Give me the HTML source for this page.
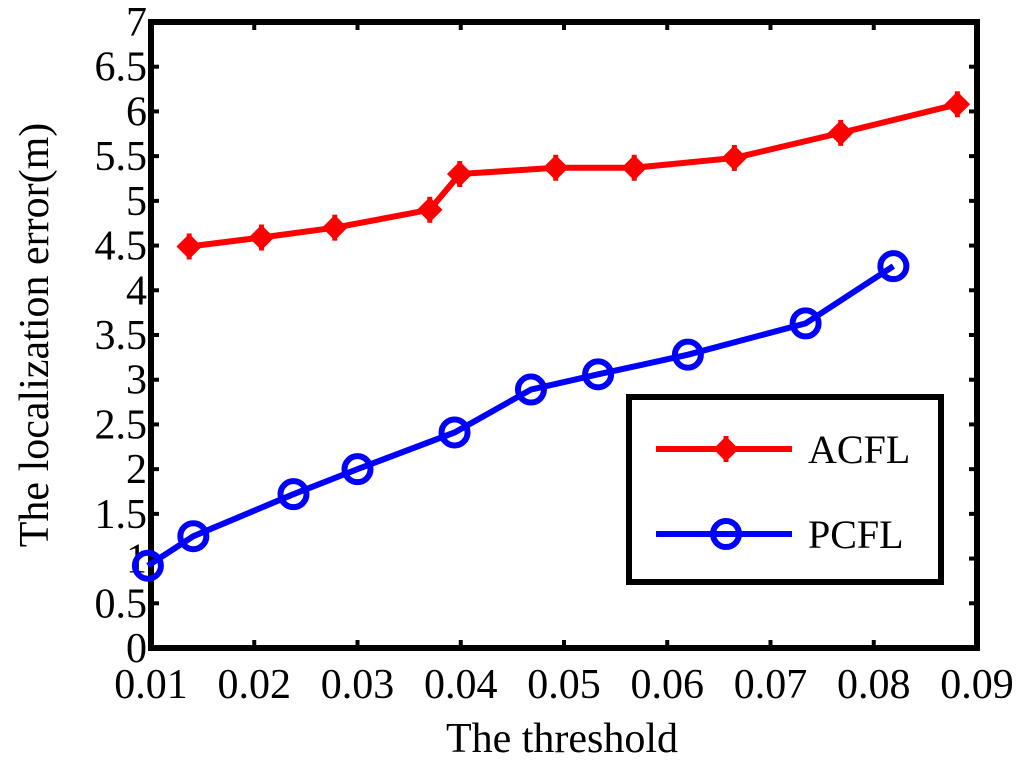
<!DOCTYPE html>
<html><head><meta charset="utf-8"><style>
body{margin:0;background:#fff}
svg text{font-family:"Liberation Serif",serif;fill:#000}
</style></head><body>
<svg id="c" width="1024" height="764"></svg>
<script>
const xTicks=[0.01,0.02,0.03,0.04,0.05,0.06,0.07,0.08,0.09];
const yTicks=[0,0.5,1,1.5,2,2.5,3,3.5,4,4.5,5,5.5,6,6.5,7];
const acflX=[0.0137,0.0207,0.0278,0.0370,0.0399,0.0492,0.0568,0.0665,0.0768,0.0881];
const acflY=[4.49,4.59,4.70,4.90,5.30,5.37,5.37,5.48,5.76,6.08];
const pcflX=[0.0097,0.0141,0.0238,0.0300,0.0394,0.0468,0.0533,0.0620,0.0734,0.0819];
const pcflY=[0.92,1.25,1.72,2.00,2.41,2.89,3.06,3.28,3.63,4.27];
const L=151,R=977,T=22,B=648;
const sx=v=>L+(v-0.01)/0.08*(R-L);
const sy=v=>B-v/7*(B-T);
const svg=document.getElementById('c');const NS='http://www.w3.org/2000/svg';
function mk(t,a,p){const e=document.createElementNS(NS,t);for(const k in a)e.setAttribute(k,a[k]);(p||svg).appendChild(e);return e;}
xTicks.forEach(v=>{const x=sx(v);
 mk('line',{x1:x,y1:B,x2:x,y2:B-8,stroke:'#000','stroke-width':4});
 mk('line',{x1:x,y1:T,x2:x,y2:T+8,stroke:'#000','stroke-width':4});
 const t=mk('text',{x:x,y:B+50,'text-anchor':'middle','font-size':42});t.textContent=v.toFixed(2);
 
 });
yTicks.forEach(v=>{const y=sy(v);
 mk('line',{x1:L,y1:y,x2:L+8,y2:y,stroke:'#000','stroke-width':4});
 mk('line',{x1:R,y1:y,x2:R-8,y2:y,stroke:'#000','stroke-width':4});
 const t=mk('text',{x:L-4,y:y+14,'text-anchor':'end','font-size':42});t.textContent=String(v);
 
 });
const fr=mk('rect',{x:L,y:T,width:R-L,height:B-T,fill:'none',stroke:'#000','stroke-width':6});


function series(xs,ys,col,name,marker){
 const pts=xs.map((v,i)=>sx(v)+','+sy(ys[i])).join(' ');
 const pl=mk('polyline',{points:pts,fill:'none',stroke:col,'stroke-width':6});
 
 
 xs.forEach((v,i)=>{const m=marker(sx(v),sy(ys[i]));
  
  });
}
function star(x,y){const g=mk('g',{});mk('rect',{x:x-9,y:y-9,width:18,height:18,fill:'red',transform:`rotate(45 ${x} ${y})`},g);
 mk('line',{x1:x,y1:y-13,x2:x,y2:y+13,stroke:'red','stroke-width':5},g);return g;}
function circ(x,y){return mk('circle',{cx:x,cy:y,r:13,fill:'none',stroke:'blue','stroke-width':6});}
series(acflX,acflY,'red','acfl',star);
series(pcflX,pcflY,'blue','pcfl',circ);
const lg=mk('g',{});
mk('rect',{x:629,y:397,width:312,height:185,fill:'#fff',stroke:'#000','stroke-width':6},lg);
mk('line',{x1:656,y1:449,x2:792,y2:449,stroke:'red','stroke-width':6},lg);
lg.appendChild(star(726,449));
mk('line',{x1:656,y1:534,x2:792,y2:534,stroke:'blue','stroke-width':6},lg);
lg.appendChild(circ(726,534));
let t=mk('text',{x:808,y:463,'font-size':40},lg);t.textContent='ACFL';
t=mk('text',{x:808,y:548,'font-size':40},lg);t.textContent='PCFL';
t=mk('text',{x:562,y:752,'text-anchor':'middle','font-size':42});t.textContent='The threshold';

t=mk('text',{x:0,y:0,'text-anchor':'middle','font-size':42,transform:'translate(48 335) rotate(-90)'});t.textContent='The localization error(m)';

</script>
</body></html>
